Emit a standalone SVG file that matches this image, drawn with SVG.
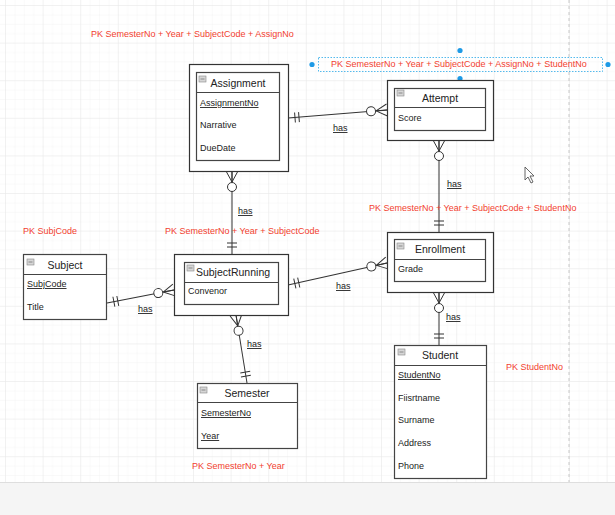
<svg xmlns="http://www.w3.org/2000/svg" xmlns:xlink="http://www.w3.org/1999/xlink" width="615" height="515" viewBox="0 0 615 515">
  <style>
    .box { fill: #fff; stroke: #333; stroke-width: 1.2; }
    .tbl { fill: #fff; stroke: #444; stroke-width: 1.2; }
    .div { stroke: #444; stroke-width: 1.2; fill: none; }
    .title { font-family: "Liberation Sans", Arial, sans-serif; font-size: 10.5px; fill: #222; text-anchor: middle; }
    .attr { font-family: "Liberation Sans", Arial, sans-serif; font-size: 9px; fill: #222; }
    .key { text-decoration: underline; }
    .pk { font-family: "Liberation Sans", Arial, sans-serif; font-size: 9px; fill: #f2412f; }
    .lbl { font-family: "Liberation Sans", Arial, sans-serif; font-size: 9px; fill: #222; text-decoration: underline; }
    .edge { stroke: #333; stroke-width: 1; fill: none; }
    .ico { fill: #d6d6d6; stroke: #888; stroke-width: 0.6; }
  </style>
  <defs>
    <pattern id="minor" width="9.4" height="9.4" patternUnits="userSpaceOnUse">
      <path d="M9.4,0V9.4M0,9.4H9.4" stroke="#f3f3f3" stroke-width="1" fill="none"/>
    </pattern>
    <pattern id="major" x="6" y="6" width="37.6" height="37.6" patternUnits="userSpaceOnUse">
      <rect width="37.6" height="37.6" fill="url(#minor)"/>
      <path d="M37.6,0V37.6M0,37.6H37.6" stroke="#e8e8e8" stroke-width="1" fill="none"/>
    </pattern>
    <!-- collapse toggle drawn in each entity header -->
    <g id="toggle">
      <rect class="ico" width="7" height="6"/>
      <path d="M1.5,3H5.5" stroke="#777" stroke-width="0.8"/>
    </g>
    <!-- mandatory one: two bars near the start of the line -->
    <g id="one" class="edge">
      <path d="M7,-5V5M11,-5V5"/>
    </g>
    <!-- zero or many: circle and crow's foot at the end of the line -->
    <g id="many" class="edge">
      <path d="M-11,0L0,-6M-11,0L0,0M-11,0L0,6"/>
      <circle cx="-16" cy="0" r="4.5" fill="#fff"/>
    </g>
  </defs>

  <!-- canvas -->
  <rect width="615" height="515" fill="#fff"/>
  <rect width="615" height="482" fill="url(#major)"/>
  <path d="M569,0V482" stroke="#c8c8c8" stroke-width="1" stroke-dasharray="3,3"/>
  <rect x="0" y="482" width="615" height="33" fill="#f5f5f5"/>
  <path d="M0,482.5H615" stroke="#dedede" stroke-width="1"/>

  <!-- connectors -->
  <g id="connectors">
    <g transform="translate(288,118) rotate(-4.62)">
      <path class="edge" d="M0,0H99.3"/>
      <use xlink:href="#one"/>
      <use xlink:href="#many" transform="translate(99.3,0)"/>
    </g>
    <g transform="translate(232,254) rotate(-90)">
      <path class="edge" d="M0,0H83"/>
      <use xlink:href="#one"/>
      <use xlink:href="#many" transform="translate(83,0)"/>
    </g>
    <g transform="translate(107,303) rotate(-10.98)">
      <path class="edge" d="M0,0H68.25"/>
      <use xlink:href="#one"/>
      <use xlink:href="#many" transform="translate(68.25,0)"/>
    </g>
    <g transform="translate(288,285) rotate(-12.53)">
      <path class="edge" d="M0,0H101.4"/>
      <use xlink:href="#one"/>
      <use xlink:href="#many" transform="translate(101.4,0)"/>
    </g>
    <g transform="translate(439,232) rotate(-90)">
      <path class="edge" d="M0,0H92"/>
      <use xlink:href="#one"/>
      <use xlink:href="#many" transform="translate(92,0)"/>
    </g>
    <g transform="translate(439,345) rotate(-90)">
      <path class="edge" d="M0,0H53"/>
      <use xlink:href="#one"/>
      <use xlink:href="#many" transform="translate(53,0)"/>
    </g>
    <g transform="translate(247,383) rotate(-99.19)">
      <path class="edge" d="M0,0H68.9"/>
      <use xlink:href="#one"/>
      <use xlink:href="#many" transform="translate(68.9,0)"/>
    </g>
    <text class="lbl" x="333" y="131">has</text>
    <text class="lbl" x="238" y="214">has</text>
    <text class="lbl" x="138" y="312">has</text>
    <text class="lbl" x="336" y="289">has</text>
    <text class="lbl" x="447" y="187">has</text>
    <text class="lbl" x="446" y="320">has</text>
    <text class="lbl" x="247" y="347">has</text>
  </g>

  <!-- primary key notes -->
  <g id="keys">
    <text class="pk" x="91" y="37">PK SemesterNo + Year + SubjectCode + AssignNo</text>
    <text class="pk" x="23" y="234">PK SubjCode</text>
    <text class="pk" x="165" y="234">PK SemesterNo + Year + SubjectCode</text>
    <text class="pk" x="369" y="211">PK SemesterNo + Year + SubjectCode + StudentNo</text>
    <text class="pk" x="192" y="469">PK SemesterNo + Year</text>
    <text class="pk" x="506" y="370">PK StudentNo</text>
  </g>

  <!-- selected label with handles -->
  <g id="attempt-key">
    <rect x="318.5" y="57.5" width="284" height="14" fill="none" stroke="#29a8e8" stroke-width="0.8" stroke-dasharray="1.5,1.5"/>
    <text class="pk" x="331" y="67">PK SemesterNo + Year + SubjectCode + AssignNo + StudentNo</text>
    <g fill="#1e9ae6">
      <circle cx="312" cy="64.5" r="2.6"/>
      <circle cx="608" cy="64.5" r="2.6"/>
      <circle cx="460" cy="50.5" r="2.6"/>
      <circle cx="460" cy="78.5" r="2.6"/>
    </g>
  </g>

  <!-- entities -->
  <g id="assignment">
    <rect class="box" x="189.5" y="64.5" width="99" height="107"/>
    <rect class="tbl" x="196.5" y="72.5" width="83" height="88"/>
    <path class="div" d="M196.5,92.5H279.5"/>
    <use xlink:href="#toggle" x="199" y="76"/>
    <text class="title" x="238" y="87">Assignment</text>
    <text class="attr key" x="200" y="106">AssignmentNo</text>
    <text class="attr" x="200" y="128">Narrative</text>
    <text class="attr" x="200" y="151">DueDate</text>
  </g>

  <g id="attempt">
    <rect class="box" x="387.5" y="80.5" width="106" height="60"/>
    <rect class="tbl" x="394.5" y="88.5" width="91" height="42"/>
    <path class="div" d="M394.5,107.5H485.5"/>
    <use xlink:href="#toggle" x="397" y="90"/>
    <text class="title" x="440" y="102">Attempt</text>
    <text class="attr" x="398" y="121">Score</text>
  </g>

  <g id="subject">
    <rect class="tbl" x="23.5" y="254.5" width="83" height="65"/>
    <path class="div" d="M23.5,274.5H106.5"/>
    <use xlink:href="#toggle" x="27" y="259"/>
    <text class="title" x="65" y="269">Subject</text>
    <text class="attr key" x="27" y="287">SubjCode</text>
    <text class="attr" x="27" y="310">Title</text>
  </g>

  <g id="subjectrunning">
    <rect class="box" x="174.5" y="254.5" width="114" height="61"/>
    <rect class="tbl" x="184.5" y="262.5" width="94" height="42"/>
    <path class="div" d="M184.5,282.5H278.5"/>
    <use xlink:href="#toggle" x="187" y="265"/>
    <text class="title" x="233" y="276">SubjectRunning</text>
    <text class="attr" x="188" y="294">Convenor</text>
  </g>

  <g id="enrollment">
    <rect class="box" x="387.5" y="232.5" width="106" height="60"/>
    <rect class="tbl" x="394.5" y="239.5" width="91" height="42"/>
    <path class="div" d="M394.5,259.5H485.5"/>
    <use xlink:href="#toggle" x="397" y="243"/>
    <text class="title" x="440" y="253">Enrollment</text>
    <text class="attr" x="398" y="272">Grade</text>
  </g>

  <g id="semester">
    <rect class="tbl" x="197.5" y="383.5" width="100" height="65"/>
    <path class="div" d="M197.5,402.5H297.5"/>
    <use xlink:href="#toggle" x="200" y="387"/>
    <text class="title" x="247" y="397">Semester</text>
    <text class="attr key" x="201" y="416">SemesterNo</text>
    <text class="attr key" x="201" y="439">Year</text>
  </g>

  <g id="student">
    <rect class="tbl" x="394.5" y="345.5" width="92" height="133"/>
    <path class="div" d="M394.5,365.5H486.5"/>
    <use xlink:href="#toggle" x="398" y="349"/>
    <text class="title" x="440" y="359">Student</text>
    <text class="attr key" x="398" y="378">StudentNo</text>
    <text class="attr" x="398" y="401">Fiisrtname</text>
    <text class="attr" x="398" y="423">Surname</text>
    <text class="attr" x="398" y="446">Address</text>
    <text class="attr" x="398" y="469">Phone</text>
  </g>

  <!-- pointer -->
  <path d="M525,167V180L528,177L531,183L533,182L530,176L534,176Z" fill="#fff" stroke="#555" stroke-width="0.9"/>
</svg>
